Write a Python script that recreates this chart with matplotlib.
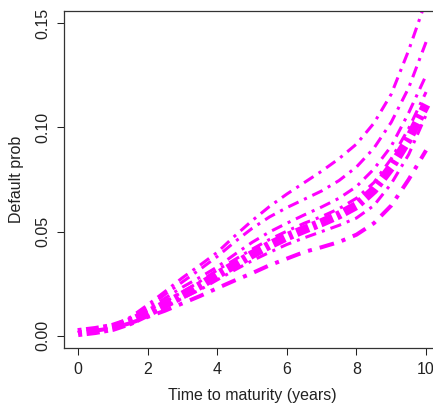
import numpy as np
import matplotlib
matplotlib.use('Agg')
import matplotlib.pyplot as plt

# 時間軸 (年)
t = [0, 0.5, 1, 1.5, 2, 2.5, 3, 3.5, 4, 4.5, 5, 5.5, 6, 6.5, 7, 7.5, 8, 8.5, 9, 9.5, 10]

# 各分位のデフォルト確率カーブ
p_top = [0.0015, 0.0028, 0.0048, 0.0088, 0.0148, 0.0212, 0.0278, 0.0338, 0.040, 0.0478, 0.0552,
         0.062, 0.068, 0.0735, 0.079, 0.085, 0.092, 0.102, 0.116, 0.137, 0.161]
p_second = [0.0015, 0.0027, 0.0045, 0.0082, 0.0135, 0.0198, 0.0258, 0.0318, 0.038, 0.045, 0.0515,
            0.057, 0.0615, 0.0655, 0.0695, 0.0745, 0.081, 0.090, 0.1025, 0.119, 0.141]
p_third = [0.0015, 0.0026, 0.0043, 0.0076, 0.0125, 0.018, 0.0233, 0.028, 0.033, 0.039, 0.0448,
           0.0498, 0.054, 0.058, 0.0618, 0.066, 0.0716, 0.080, 0.091, 0.107, 0.125]
p_upper = [0.0015, 0.0026, 0.0042, 0.0072, 0.0118, 0.0163, 0.021, 0.026, 0.0315, 0.0365, 0.0415,
           0.0462, 0.0502, 0.054, 0.0572, 0.061, 0.066, 0.0735, 0.085, 0.0995, 0.117]
p_median = [0.0015, 0.0025, 0.004, 0.0068, 0.0108, 0.015, 0.0195, 0.024, 0.0292, 0.034, 0.039,
            0.0435, 0.0475, 0.051, 0.0543, 0.058, 0.0625, 0.070, 0.081, 0.0945, 0.111]
p_lower = [0.0015, 0.0024, 0.0038, 0.0064, 0.0102, 0.0138, 0.018, 0.022, 0.0268, 0.0315, 0.036,
           0.040, 0.0438, 0.047, 0.050, 0.053, 0.0565, 0.0625, 0.073, 0.087, 0.106]
p_bottom = [0.0015, 0.0024, 0.0037, 0.006, 0.009, 0.012, 0.0155, 0.019, 0.0228, 0.0265, 0.030,
            0.0338, 0.037, 0.0402, 0.0425, 0.045, 0.0485, 0.054, 0.0625, 0.075, 0.089]

yticks = [0.00, 0.05, 0.10, 0.15]
ytick_labels = ['0.00', '0.05', '0.10', '0.15']
xticks = [0, 2, 4, 6, 8, 10]

plt.rcParams['font.family'] = ['Liberation Sans', 'DejaVu Sans']
plt.rcParams['font.size'] = 11.5

fig = plt.figure(figsize=(4.33, 4.05), dpi=100)
ax = fig.add_axes([64 / 433, 57 / 405, 376 / 433, 337 / 405])

col = '#ff00ff'
thin = (0, (1, 2, 3.7, 2))
thick = (0, (0.44, 0.5, 1.44, 0.5))

ax.plot(t, p_top, color=col, lw=2.2, linestyle=thin)
ax.plot(t, p_second, color=col, lw=2.2, linestyle=thin)
ax.plot(t, p_third, color=col, lw=2.2, linestyle=thin)
ax.plot(t, p_upper, color=col, lw=2.2, linestyle=thin)
ax.plot(t, p_lower, color=col, lw=2.2, linestyle=thin)
ax.plot(t, p_median, color=col, lw=6.5, linestyle=thick)
ax.plot(t, p_bottom, color=col, lw=2.9, linestyle=thin)

ax.set_xlim(-0.4, 10.4)
ax.set_ylim(-0.0059, 0.1559)
ax.set_xticks(xticks)
ax.set_yticks(yticks)
ax.set_yticklabels(ytick_labels, rotation=90, va='center')
ax.tick_params(direction='out', length=5, width=0.75, colors='#222222', pad=5)
for s in ax.spines.values():
    s.set_linewidth(0.9)
    s.set_color('#333333')

ax.set_xlabel('Time to maturity (years)', color='#222222', labelpad=8)
ax.set_ylabel('Default prob', color='#222222', labelpad=8)

plt.savefig('out.png', dpi=100)
plt.close()
